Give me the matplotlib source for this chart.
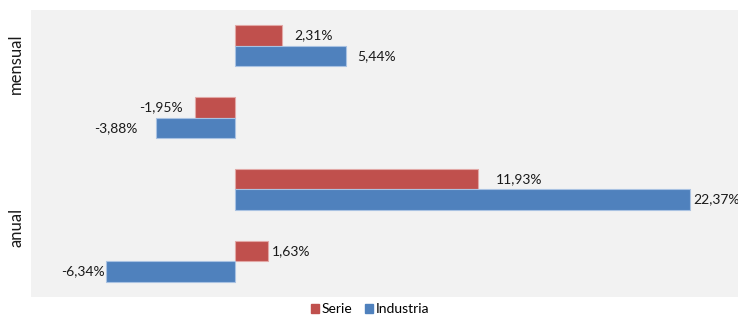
import matplotlib
matplotlib.use("Agg")
import matplotlib.pyplot as plt
import numpy as np
from matplotlib.patches import Patch

plt.rcParams["font.family"] = ["Lato", "DejaVu Sans"]

# data, top to bottom
rows = ["mensual 1", "mensual 2", "anual 1", "anual 2"]
serie = [2.31, -1.95, 11.93, 1.63]
industria = [5.44, -3.88, 22.37, -6.34]
group_labels = ["mensual", "anual"]

# label nudges (pixels away from the bar end)
serie_pad = [12, 13, 18, 3.5]
industria_pad = [12, 19, 3, 1]

RED = "#C0504D"
BLUE = "#4F81BD"

fig = plt.figure(figsize=(7.38, 3.16), dpi=100)
ax = fig.add_axes([31 / 738, 19 / 316, 707 / 738, 287 / 316])
ax.set_facecolor("#F2F2F2")

y = np.arange(len(rows))
h = 0.285
ax.barh(y - h / 2, serie, height=h, color=RED, edgecolor="#E2A8A6", linewidth=0.8)
ax.barh(y + h / 2, industria, height=h, color=BLUE, edgecolor="#A9C2E2", linewidth=0.8)

ax.set_xlim(-10.03, 24.73)
ax.set_ylim(3.5, -0.5)
ax.set_xticks([])
ax.set_yticks([])
for s in ax.spines.values():
    s.set_visible(False)


def fmt(v):
    return f"{v:.2f}%".replace(".", ",")


for vals, pads, off in ((serie, serie_pad, -h / 2), (industria, industria_pad, h / 2)):
    for i, (v, p) in enumerate(zip(vals, pads)):
        sign = 1 if v >= 0 else -1
        ax.annotate(fmt(v), (v, i + off), xytext=(sign * p * 0.72, 0),
                    textcoords="offset points", va="center",
                    ha="left" if v >= 0 else "right", fontsize=10, color="#1a1a1a")

fig.text(16 / 738, 1 - 64 / 316, group_labels[0], rotation=90, ha="center", va="center",
         fontsize=12, color="#1a1a1a")
fig.text(16 / 738, 1 - 227 / 316, group_labels[1], rotation=90, ha="center", va="center",
         fontsize=12, color="#1a1a1a")

handles = [Patch(color=RED, label="Serie"), Patch(color=BLUE, label="Industria")]
fig.legend(handles=handles, loc="center", bbox_to_anchor=(370 / 738, 1 - 309 / 316),
           ncol=2, frameon=False, fontsize=10, handlelength=0.6, handleheight=0.6,
           handletextpad=0.2, columnspacing=0.9, borderpad=0)

fig.savefig("out.png", dpi=100, facecolor="white")
